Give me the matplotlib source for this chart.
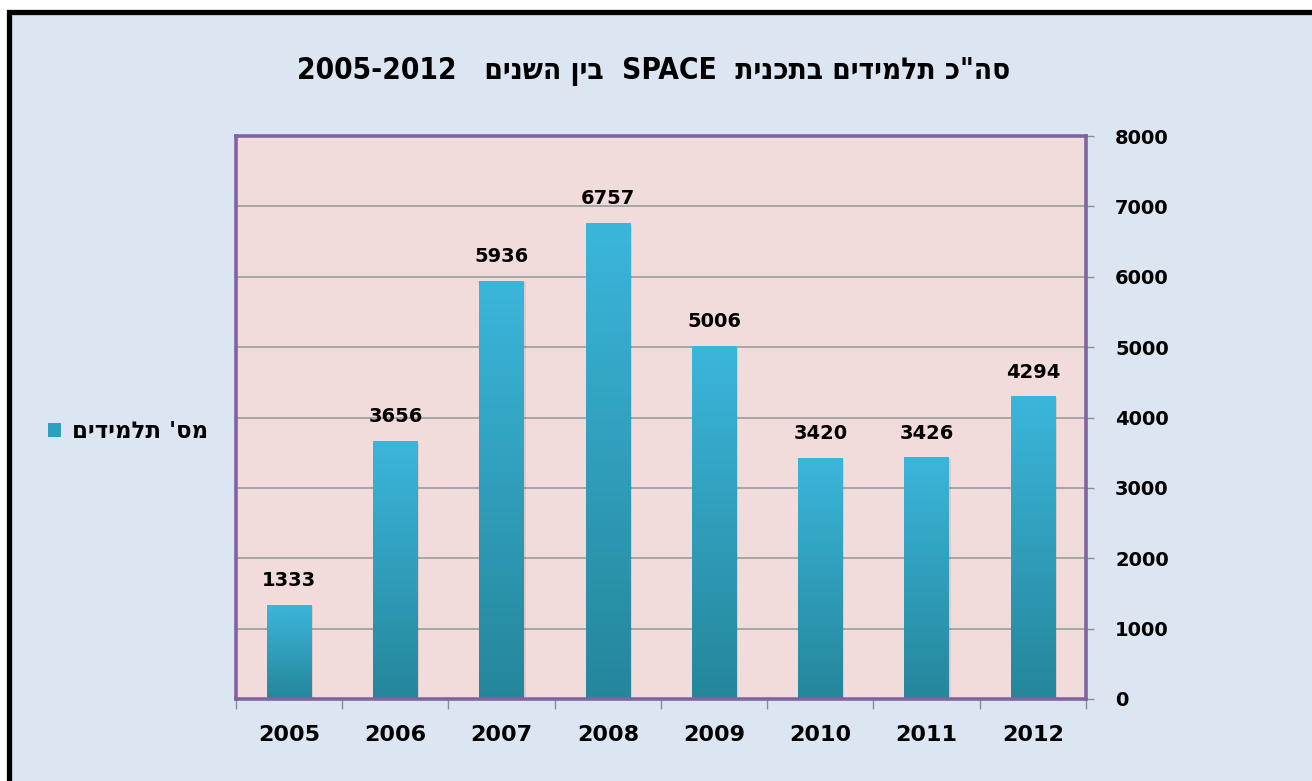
"""
plot.py
----------------------------------------------------------
Total students in the SPACE programme, 2005-2012 (bar chart, Hebrew labels).
"""

import numpy as np
import matplotlib
matplotlib.use("Agg")
import matplotlib.pyplot as plt
from matplotlib.patches import Rectangle
from matplotlib.colors import LinearSegmentedColormap

# ---------------------------------------------------------------------
# Data
# ---------------------------------------------------------------------
years = ["2005", "2006", "2007", "2008", "2009", "2010", "2011", "2012"]
students = [1333, 3656, 5936, 6757, 5006, 3420, 3426, 4294]
y_ticks = [0, 1000, 2000, 3000, 4000, 5000, 6000, 7000, 8000]

title_he_1 = 'סה"כ תלמידים בתכנית'
title_he_2 = "בין השנים"
title_latin = "SPACE"
title_range = "2005-2012"
legend_label_he = "מס' תלמידים"


def rtl(s):
    # matplotlib has no bidi support: feed Hebrew runs in visual order
    return s[::-1]


# ---------------------------------------------------------------------
# Style
# ---------------------------------------------------------------------
W, H = 1312, 781
FONT = ["DejaVu Sans", "Liberation Sans"]
plt.rcParams["font.family"] = FONT

BG = "#dce6f2"
PLOT_BG = "#f2dcdb"
PURPLE = "#8064a2"
GRID = "#a6a6a6"
BAR_TOP = "#3bb6db"
BAR_BOTTOM = "#25869b"

fig = plt.figure(figsize=(W / 100, H / 100), dpi=100, facecolor="white")

# outer frame (black border on top / left like the screenshot)
fig.patches.append(
    Rectangle((8.5 / W, -0.1), 1.2, 1 - 11.5 / H + 0.1,
              transform=fig.transFigure, facecolor=BG,
              edgecolor="black", linewidth=3.8, zorder=-1)
)

ax = fig.add_axes([236 / W, 1 - 699 / H, 850 / W, 563 / H])
ax.set_facecolor(PLOT_BG)

x = np.arange(len(years))
bars = ax.bar(x, students, width=0.42, color=BAR_BOTTOM, zorder=2)

# vertical gradient on each bar
cmap = LinearSegmentedColormap.from_list("bar", [BAR_BOTTOM, BAR_TOP])
grad = np.linspace(0, 1, 256).reshape(-1, 1)
for b in bars:
    x0, w, h = b.get_x(), b.get_width(), b.get_height()
    ax.add_patch(Rectangle((x0 + 0.015, 0), w, h - 15, facecolor="#000000",
                           alpha=0.08, zorder=1.5, linewidth=0))
    ax.imshow(grad, cmap=cmap, origin="lower", aspect="auto",
              extent=[x0, x0 + w, 0, h], zorder=3, interpolation="bilinear")
    ax.annotate(f"{int(h)}", (x0 + w / 2, h), xytext=(0, 11),
                textcoords="offset points", ha="center", va="bottom",
                fontsize=14, fontweight="bold", color="black")

ax.set_xlim(-0.5, len(years) - 0.5)
ax.set_ylim(0, 8000)

# y axis on the right
ax.yaxis.tick_right()
ax.set_yticks(y_ticks)
ax.set_yticklabels([str(v) for v in y_ticks], fontsize=14, fontweight="bold")
ax.tick_params(axis="y", direction="out", length=6, width=1, color="#8c8c8c",
               pad=15)
ax.yaxis.grid(True, color=GRID, linewidth=1.4, zorder=1)
ax.set_axisbelow(True)

# x axis: ticks between categories, labels centred
ax.set_xticks(np.arange(-0.5, len(years)))
ax.set_xticklabels([])
ax.set_xticks(x, minor=True)
ax.set_xticklabels(years, minor=True, fontsize=16, fontweight="bold")
ax.tick_params(axis="x", which="major", direction="out", length=7, width=1,
               color="#8c8c8c")
ax.tick_params(axis="x", which="minor", length=0, pad=19)

for sp in ax.spines.values():
    sp.set_color(PURPLE)
    sp.set_linewidth(2.6)
    sp.set_zorder(5)

# title (visual order, right-to-left)
title = (title_range + "   " + rtl(title_he_2) + "  " + title_latin + "  "
         + rtl(title_he_1))
fig.text(654 / W, 1 - 72 / H, title, ha="center", va="center",
         fontsize=21.3, fontweight="bold", fontstretch="condensed",
         family=FONT)

# legend on the left
handle = Rectangle((0, 0), 1, 1, facecolor="#2f9fc0")
fig.legend([handle], [rtl(legend_label_he)], loc="center left",
           bbox_to_anchor=(48 / W, 1 - 432 / H), frameon=False,
           borderpad=0, borderaxespad=0,
           handlelength=0.56, handleheight=0.56, handletextpad=0.47,
           prop={"size": 16.5, "weight": "bold", "family": FONT})

fig.savefig("out.png", dpi=100, facecolor=fig.get_facecolor())
